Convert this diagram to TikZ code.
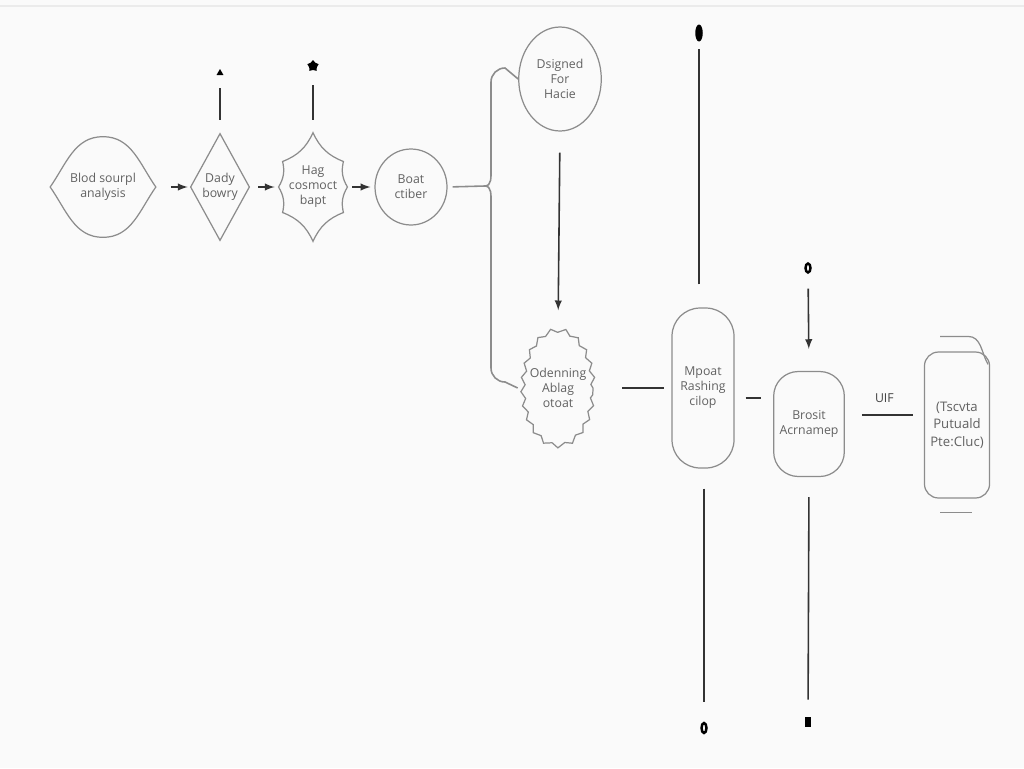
\documentclass[tikz,border=0pt]{standalone}
\usepackage{fontspec}
\setmainfont{Open Sans}
\usetikzlibrary{arrows,calc,shapes.geometric,decorations.pathmorphing}

\tikzset{
  txt/.style={align=center, font=\fontsize{7}{8.5}\selectfont, text=black!62},
  outl/.style={draw=black!45, line width=0.7pt},
  link/.style={draw=black!80, line width=0.9pt},
}

\begin{document}
\begin{tikzpicture}[x=0.02cm,y=-0.02cm]
\useasboundingbox[fill=black!2] (0,0) rectangle (1024,768);
\draw[black!8, line width=1pt] (0,6) -- (1024,6);

% shapes
\node[txt, minimum width=2.1cm, minimum height=2cm] (blood) at (103,187) {Blod sourpl\\analysis};
\draw[outl] (blood.west) to[out=55,in=180] (blood.north) to[out=0,in=125] (blood.east)
  to[out=-125,in=0] (blood.south) to[out=180,in=-55] cycle;

\node[txt, minimum width=1.16cm, minimum height=2.12cm] (daily) at (220,187) {Dady\\bowry};
\draw[outl] (daily.north) -- (daily.east) -- (daily.south) -- (daily.west) -- cycle;

\node[txt, ellipse, minimum width=1.24cm, minimum height=2.16cm, inner sep=0pt] (hag) at (313,187) {Hag\\cosmoct\\bapt};
\draw[outl] (hag.90) to[bend right=22] (hag.40) to[bend right=22] (hag.0) to[bend right=22] (hag.-40)
  to[bend right=22] (hag.-90) to[bend right=22] (hag.-140) to[bend right=22] (hag.180)
  to[bend right=22] (hag.140) to[bend right=22] cycle;

\node[txt, outl, ellipse, minimum width=1.44cm, minimum height=1.52cm] (boat) at (411,187) {Boat\\ctiber};

\node[txt, outl, ellipse, minimum width=1.5cm, minimum height=2.08cm] (design) at (560,79) {Dsigned\\For\\Hacie};

\node[txt, ellipse, minimum width=1.4cm, minimum height=2.3cm, inner sep=0pt] (open) at (558,388) {Odenning\\Ablag\\otoat};
\draw[outl, decorate, decoration={zigzag, segment length=8pt, amplitude=1.2pt}]
  (open.center) ellipse [x radius=0.7cm, y radius=1.15cm];

\node[txt, outl, rounded corners=16pt, minimum width=1.24cm, minimum height=3.2cm] (mpoat) at (703,388) {Mpoat\\Rashing\\cilop};

\node[txt, outl, rounded corners=14pt, minimum width=1.16cm, minimum height=2.1cm] (brosit) at (809,424) {Brosit\\Acrnamep};

\node[txt, outl, rounded corners=8pt, minimum width=1.24cm, minimum height=2.92cm,
  font=\fontsize{7.5}{10}\selectfont] (tscvta) at (957,425) {(Tscvta\\Putuald\\Pte:Cluc)};
\draw[outl] ($(tscvta.north)+(-17,-15)$) -- ++(28,0) to[out=0,in=120] ++(20,28);
\draw[outl] ($(tscvta.south)+(-17,14)$) -- ++(32,0);

% end marks
\node[fill=black, regular polygon, regular polygon sides=3, minimum size=0.16cm, inner sep=0pt] (dailytip) at (220,73) {};
\node[fill=black, star, star points=5, minimum size=0.24cm, inner sep=0pt] (hagtip) at (313,66) {};
\node[fill=black, ellipse, minimum width=0.15cm, minimum height=0.34cm, inner sep=0pt] (mpoattip) at (699,33) {};
\node[draw=black, line width=1.4pt, ellipse, minimum width=0.1cm, minimum height=0.2cm, inner sep=0pt] (mpoatend) at (704,728) {};
\node[draw=black, line width=1.4pt, ellipse, minimum width=0.1cm, minimum height=0.18cm, inner sep=0pt] (brosittop) at (808,268) {};
\node[fill=black, minimum width=0.12cm, minimum height=0.2cm, inner sep=0pt] (brositend) at (808,722) {};
\coordinate (split) at (485,186);

% connectors
\draw[link, -latex, shorten <=0.3cm, shorten >=0.06cm] (blood.east) -- (daily.west);
\draw[link, -latex, shorten <=0.18cm, shorten >=0.08cm] (daily.east) -- (hag.west);
\draw[link, -latex, shorten <=0.1cm, shorten >=0.08cm] (hag.east) -- (boat.west);
\draw[link, line width=1.3pt, shorten <=0.28cm, shorten >=0.26cm] (daily.north) -- (dailytip);
\draw[link, line width=1.3pt, shorten <=0.26cm, shorten >=0.3cm] (hag.north) -- (hagtip);

\draw[outl, line width=0.9pt, shorten <=0.1cm] (boat.east) -- (split);
\draw[outl, line width=0.9pt] (split) to[out=0,in=-90] (491,170) -- (491,82) to[out=90,in=180] (505,68) -- (design.west);
\draw[outl, line width=0.9pt] (split) to[out=0,in=90] (491,202) -- (491,368) to[out=-90,in=180] (505,382) -- (open.west);

\draw[link, -latex, shorten <=0.42cm, shorten >=0.4cm] (design.south) -- (open.north);
\draw[link, shorten <=0.48cm, shorten >=0.14cm] (open.east) -- (mpoat.west);
\draw[link, shorten <=0.46cm, shorten >=0.14cm] (mpoat.north -| mpoattip) -- (mpoattip);
\draw[link, shorten <=0.4cm, shorten >=0.4cm] (mpoat.south -| mpoatend) -- (mpoatend);
\draw[link, shorten <=0.22cm, shorten >=0.24cm] (mpoat.east |- 0,398) -- (brosit.west |- 0,398);
\draw[link, -latex, shorten <=0.3cm, shorten >=0.44cm] (brosittop) -- (brosit.north);
\draw[link, shorten <=0.4cm, shorten >=0.34cm] (brosit.south) -- (brositend);
\draw[link, shorten <=0.34cm, shorten >=0.22cm] (brosit.east |- 0,415) -- node[above=3pt, txt, text=black!75] {UIF} (tscvta.west |- 0,415);

\end{tikzpicture}
\end{document}
